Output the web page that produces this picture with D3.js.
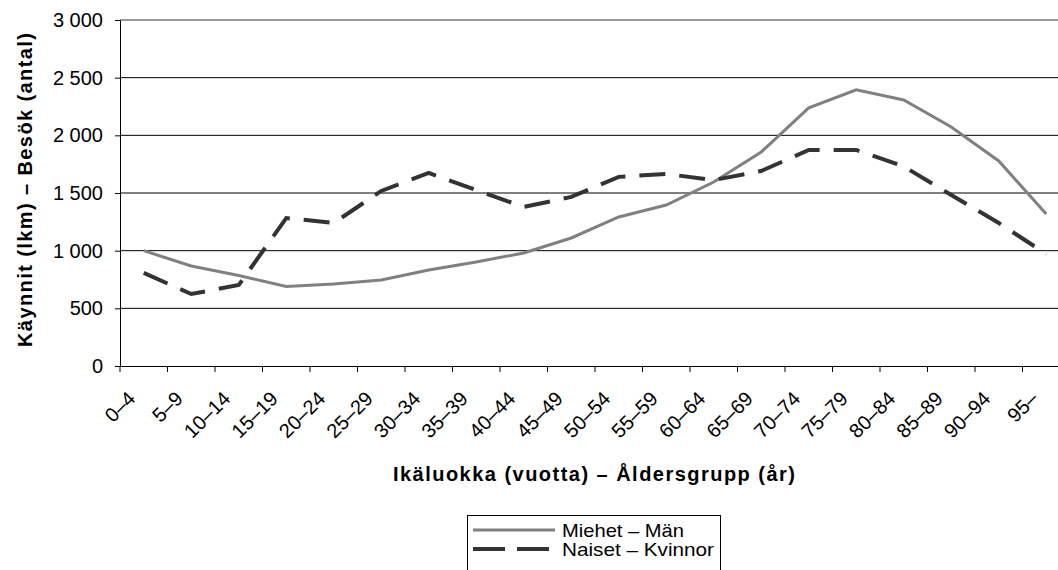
<!DOCTYPE html>
<html>
<head>
<meta charset="utf-8">
<script src="https://cdn.jsdelivr.net/npm/d3@7"></script>
<style>
  body { margin: 0; background: #fff; }
  svg { display: block; font-family: "Liberation Sans", Arial, sans-serif; }
</style>
</head>
<body>
<script>
// age groups and visit counts
const ageGroups = ["0–4", "5–9", "10–14", "15–19", "20–24", "25–29", "30–34", "35–39", "40–44", "45–49",
  "50–54", "55–59", "60–64", "65–69", "70–74", "75–79", "80–84", "85–89", "90–94", "95–"];
const men = [1000, 867, 785, 690, 711, 746, 832, 902, 980, 1110, 1292, 1396, 1595, 1856, 2238, 2394, 2307, 2073, 1778, 1318];
const women = [807, 624, 702, 1283, 1240, 1518, 1674, 1526, 1379, 1466, 1640, 1665, 1612, 1691, 1873, 1873, 1730, 1483, 1240, 971];
const yTicks = [0, 500, 1000, 1500, 2000, 2500, 3000];
const seriesNames = ["Miehet – Män", "Naiset – Kvinnor"];

const W = 1058, H = 570;
const plotLeft = 120, plotTop = 20, plotBottom = 366;
const plotRight = plotLeft + 47.5 * ageGroups.length; // plot runs off the right edge

const svg = d3.select("body").append("svg")
  .attr("width", W)
  .attr("height", H);

svg.append("rect").attr("width", W).attr("height", H).attr("fill", "#fff");

const x = d3.scaleBand().domain(ageGroups).range([plotLeft, plotRight]);
const y = d3.scaleLinear().domain([0, 3000]).range([plotBottom, plotTop]);

// gridlines
svg.append("g")
  .selectAll("line")
  .data(yTicks.filter(d => d > 0 && d < 3000))
  .join("line")
  .attr("x1", plotLeft).attr("x2", plotRight)
  .attr("y1", d => y(d)).attr("y2", d => y(d))
  .attr("stroke", "#000")
  .attr("stroke-width", 1);

// plot area top border
svg.append("line")
  .attr("x1", plotLeft).attr("x2", plotRight)
  .attr("y1", y(3000)).attr("y2", y(3000))
  .attr("stroke", "#999")
  .attr("stroke-width", 2);

// y axis
const yAxis = svg.append("g")
  .attr("transform", `translate(${plotLeft},0)`)
  .call(d3.axisLeft(y).tickValues(yTicks).tickSize(5).tickPadding(12)
    .tickFormat(d => d3.format(",")(d).replace(",", " ")));
yAxis.select(".domain").attr("stroke", "#000");
yAxis.selectAll("text").attr("font-size", 20).attr("fill", "#000")
  .attr("font-family", "Liberation Sans, Arial, sans-serif");

// x axis
const xAxis = svg.append("g")
  .attr("transform", `translate(0,${plotBottom})`)
  .call(d3.axisBottom(x).tickSize(0).tickFormat(""));
xAxis.select(".domain").attr("stroke", "#000");

svg.append("g")
  .selectAll("line")
  .data(ageGroups)
  .join("line")
  .attr("x1", d => x(d)).attr("x2", d => x(d))
  .attr("y1", plotBottom).attr("y2", plotBottom + 6)
  .attr("stroke", "#000");

svg.append("g")
  .selectAll("text")
  .data(ageGroups)
  .join("text")
  .attr("transform", d => `translate(${x(d) + x.bandwidth() / 2 - 12},${plotBottom + 29}) rotate(-45)`)
  .attr("text-anchor", "end")
  .attr("dy", "0.35em")
  .attr("font-size", 20)
  .text(d => d);

// lines
const line = d3.line()
  .x((d, i) => x(ageGroups[i]) + x.bandwidth() / 2)
  .y(d => y(d));

svg.append("path")
  .datum(men)
  .attr("d", line)
  .attr("fill", "none")
  .attr("stroke", "#808080")
  .attr("stroke-width", 3);

svg.append("path")
  .datum(women)
  .attr("d", line)
  .attr("fill", "none")
  .attr("stroke", "#333")
  .attr("stroke-width", 4)
  .attr("stroke-dasharray", "26,14");

// axis titles
svg.append("text")
  .attr("x", 594).attr("y", 481)
  .attr("text-anchor", "middle")
  .attr("font-size", 20).attr("font-weight", "bold")
  .attr("textLength", 402).attr("lengthAdjust", "spacing")
  .text("Ikäluokka (vuotta) – Åldersgrupp (år)");

svg.append("text")
  .attr("transform", `translate(32,${(33 + 347) / 2}) rotate(-90)`)
  .attr("text-anchor", "middle")
  .attr("font-size", 20).attr("font-weight", "bold")
  .attr("textLength", 314).attr("lengthAdjust", "spacing")
  .text("Käynnit (lkm) – Besök (antal)");

// legend
const legend = svg.append("g").attr("transform", "translate(467,515)");
legend.append("rect")
  .attr("x", 0.5).attr("y", 0.5)
  .attr("width", 253).attr("height", 70)
  .attr("fill", "#fff").attr("stroke", "#000");

const styles = [
  { stroke: "#808080", width: 3, dash: null },
  { stroke: "#333", width: 4, dash: "32,12" }
];
seriesNames.forEach((name, i) => {
  const gy = 15 + i * 19;
  legend.append("line")
    .attr("x1", 6).attr("x2", 88)
    .attr("y1", gy).attr("y2", gy)
    .attr("stroke", styles[i].stroke)
    .attr("stroke-width", styles[i].width)
    .attr("stroke-dasharray", styles[i].dash);
  legend.append("text")
    .attr("x", 95).attr("y", gy + 7)
    .attr("font-size", 19)
    .attr("textLength", i === 0 ? 122 : 152).attr("lengthAdjust", "spacingAndGlyphs")
    .text(name);
});
</script>
</body>
</html>
